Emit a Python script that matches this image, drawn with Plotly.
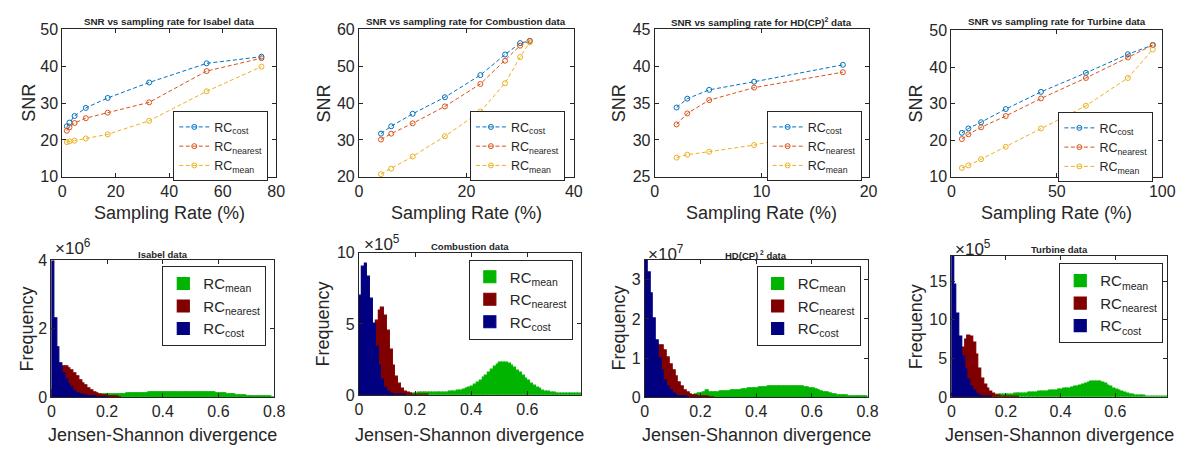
import plotly.graph_objects as go

W, H = 1185, 453
TXT = "#262626"
FONT = "Liberation Sans, Arial, sans-serif"

# ---------------- top row: SNR vs sampling rate ----------------
isa_rate = [1.7, 2.7, 4.6, 8.8, 17.0, 32.5, 54.0, 74.5]
isa_cost = [23.7, 24.7, 26.5, 28.7, 31.4, 35.6, 40.8, 42.6]
isa_nearest = [22.5, 23.4, 24.6, 25.9, 27.4, 30.2, 38.7, 42.2]
isa_mean = [19.4, 19.6, 19.8, 20.4, 21.5, 25.2, 33.2, 39.9]

com_rate = [4.1, 6.0, 10.0, 16.0, 22.6, 27.2, 30.0, 31.8]
com_cost = [31.7, 33.7, 37.1, 41.6, 47.6, 53.2, 56.3, 56.9]
com_nearest = [30.1, 31.7, 34.5, 39.1, 45.2, 51.5, 55.6, 56.9]
com_mean = [20.7, 22.2, 25.5, 31.0, 37.7, 45.4, 52.5, 56.5]

hd_rate = [2.05, 3.05, 5.1, 9.3, 17.6]
hd_cost = [34.4, 35.6, 36.8, 37.9, 40.2]
hd_nearest = [32.1, 33.6, 35.4, 37.1, 39.2]
hd_mean = [27.6, 28.0, 28.4, 29.3, 31.8]

tur_rate = [5.0, 8.1, 14.1, 25.8, 42.5, 63.8, 83.7, 95.5]
tur_cost = [22.0, 23.2, 24.9, 28.5, 33.2, 38.4, 43.5, 46.0]
tur_nearest = [20.3, 21.6, 23.5, 26.6, 31.4, 37.0, 42.6, 46.0]
tur_mean = [12.4, 13.1, 14.8, 18.2, 23.2, 29.4, 37.0, 44.8]

# ---------------- bottom row: JS divergence histograms (bin width 0.01) ----------------
BIN = 0.01
isa_h_cost_start, isa_h_nearest_start, isa_h_mean_start = 0.0, 0.0, 0.1
isa_h_cost = [4.3, 2.3, 1.45, 1.0, 0.7, 0.52, 0.38, 0.27, 0.18, 0.12, 0.08, 0.05, 0.035, 0.02,
              0.012, 0.008, 0.005, 0.003, 0.002, 0.001]
isa_h_nearest = [0.2, 0.45, 0.68, 0.84, 0.9, 0.9, 0.85, 0.77, 0.68, 0.6, 0.5, 0.41, 0.33, 0.25,
                 0.19, 0.14, 0.1, 0.075, 0.055, 0.04, 0.03, 0.02, 0.015, 0.01, 0.005]
isa_h_mean = [0.01, 0.015, 0.02, 0.03, 0.035, 0.045, 0.05, 0.06, 0.065, 0.07,
              0.075, 0.08, 0.08, 0.085, 0.085, 0.09, 0.09, 0.095, 0.095, 0.1,
              0.1, 0.105, 0.11, 0.115, 0.12, 0.125, 0.13, 0.13, 0.135, 0.135,
              0.14, 0.14, 0.14, 0.145, 0.145, 0.145, 0.145, 0.15, 0.15, 0.15,
              0.15, 0.15, 0.15, 0.145, 0.145, 0.14, 0.135, 0.13, 0.125, 0.12,
              0.11, 0.1, 0.095, 0.085, 0.075, 0.065, 0.055, 0.05, 0.04, 0.035,
              0.03, 0.025, 0.02, 0.018, 0.015, 0.012, 0.01, 0.008, 0.006, 0.005]

com_h_cost_start, com_h_nearest_start, com_h_mean_start = 0.0, 0.0, 0.1
com_h_cost = [7.0, 9.0, 9.2, 8.3, 6.8, 5.0, 3.4, 2.1, 1.1, 0.5, 0.25, 0.12, 0.06, 0.03, 0.015,
              0.008, 0.004]
com_h_nearest = [0.1, 0.3, 0.8, 1.6, 2.7, 4.0, 5.2, 5.9, 6.15, 5.6, 4.5, 3.2, 2.1, 1.3, 0.8,
                 0.45, 0.25, 0.14, 0.08, 0.05, 0.03, 0.02, 0.01, 0.005, 0.003]
com_h_mean = [0.01, 0.015, 0.02, 0.03, 0.04, 0.05, 0.06, 0.08, 0.1, 0.12,
              0.13, 0.14, 0.15, 0.15, 0.16, 0.16, 0.17, 0.17, 0.18, 0.18,
              0.19, 0.2, 0.21, 0.23, 0.25, 0.28, 0.32, 0.37, 0.44, 0.52,
              0.62, 0.74, 0.88, 1.03, 1.2, 1.38, 1.56, 1.78, 1.98, 2.15,
              2.27, 2.3, 2.28, 2.2, 2.08, 1.92, 1.74, 1.55, 1.35, 1.16,
              0.98, 0.82, 0.67, 0.54, 0.43, 0.34, 0.27, 0.22, 0.18, 0.15,
              0.13, 0.12, 0.11, 0.1, 0.09, 0.09, 0.08, 0.08, 0.08, 0.08]

hd_h_cost_start, hd_h_nearest_start, hd_h_mean_start = 0.0, 0.0, 0.1
hd_h_cost = [3.6, 3.2, 2.65, 2.0, 1.45, 1.0, 0.68, 0.43, 0.27, 0.16, 0.09, 0.05, 0.025, 0.012,
             0.006, 0.003]
hd_h_nearest = [0.15, 0.4, 0.7, 0.98, 1.2, 1.33, 1.33, 1.2, 1.02, 0.84, 0.68, 0.52, 0.38, 0.27,
                0.18, 0.12, 0.08, 0.05, 0.035, 0.025, 0.015, 0.01, 0.005, 0.003, 0.001]
hd_h_mean = [0.005, 0.008, 0.01, 0.015, 0.02, 0.03, 0.04, 0.05, 0.07, 0.09,
             0.1, 0.11, 0.18, 0.12, 0.12, 0.13, 0.13, 0.14, 0.14, 0.15,
             0.15, 0.16, 0.17, 0.17, 0.18, 0.19, 0.2, 0.21, 0.22, 0.22,
             0.23, 0.24, 0.24, 0.25, 0.26, 0.26, 0.27, 0.27, 0.28, 0.28,
             0.28, 0.28, 0.28, 0.28, 0.27, 0.27, 0.26, 0.25, 0.24, 0.23,
             0.21, 0.19, 0.17, 0.15, 0.13, 0.11, 0.09, 0.08, 0.06, 0.05,
             0.04, 0.035, 0.03, 0.025, 0.02, 0.018, 0.015, 0.012, 0.01, 0.01]

tur_h_cost_start, tur_h_nearest_start, tur_h_mean_start = 0.0, 0.0, 0.1
tur_h_cost = [19.0, 14.5, 10.8, 7.8, 5.3, 3.6, 2.3, 1.4, 0.8, 0.45, 0.22, 0.1, 0.05, 0.02, 0.01]
tur_h_nearest = [0.5, 1.5, 3.0, 4.8, 6.4, 7.4, 7.9, 7.8, 7.0, 5.5, 3.7, 2.4, 1.6, 1.05, 0.65,
                 0.4, 0.22, 0.13, 0.08, 0.05, 0.03, 0.015, 0.01, 0.005, 0.002]
tur_h_mean = [0.02, 0.04, 0.07, 0.1, 0.15, 0.2, 0.25, 0.28, 0.3, 0.32,
              0.34, 0.36, 0.38, 0.4, 0.42, 0.45, 0.48, 0.51, 0.54, 0.57,
              0.6, 0.63, 0.66, 0.7, 0.73, 0.77, 0.81, 0.85, 0.9, 0.95,
              1.0, 1.05, 1.1, 1.16, 1.22, 1.3, 1.4, 1.52, 1.64, 1.76,
              1.86, 1.94, 1.98, 2.0, 1.98, 1.9, 1.75, 1.55, 1.35, 1.15,
              0.95, 0.8, 0.66, 0.54, 0.44, 0.36, 0.3, 0.25, 0.2, 0.17,
              0.14, 0.12, 0.1, 0.09, 0.08, 0.07, 0.06, 0.06, 0.05, 0.05]

top_titles = ["SNR vs sampling rate for Isabel data", "SNR vs sampling rate for Combustion data",
              "SNR vs sampling rate for HD(CP)<sup>2</sup> data", "SNR vs sampling rate for Turbine data"]
bot_titles = ["Isabel data", "Combustion data", "HD(CP)<sup> 2</sup> data", "Turbine data"]
exponents = [6, 5, 7, 5]
series_names = ["RC<sub>cost</sub>", "RC<sub>nearest</sub>", "RC<sub>mean</sub>"]

# ---------------- styling / layout ----------------
LINE_COLORS = ["#0072BD", "#D95319", "#EDB120"]
BAR_COLORS = {"mean": "#00B400", "nearest": "#800000", "cost": "#000080"}

def xdom(a, b):
    return [a / W, b / W]

def ydom(top, bottom):
    return [1 - bottom / H, 1 - top / H]

top_boxes = [(51, 268, 14, 167), (352, 570, 14, 167), (652, 869, 14, 167), (953, 1167, 15, 167)]
bot_boxes = [(40, 266, 254, 396), (352, 577, 246, 394), (642, 868, 253, 396), (953, 1172, 249, 396)]
top_xr = [([0, 80], 20), ([0, 40], 20), ([0, 20], 10), ([0, 100], 50)]
top_yr = [([10, 50], 10), ([20, 60], 10), ([25, 45], 5), ([10, 50], 10)]
bot_xr = [[0, 0.8], [0, 0.79], [0, 0.8], [0, 0.79]]
bot_yr = [([0, 4], 2), ([0, 10], 5), ([0, 3.52], 1), ([0, 18.3], 5)]
# legend boxes: (right edge, top edge) in pixels
top_leg = [(260, 99), (561, 99), (862, 99), (1158, 100)]
bot_leg = [(258, 260), (569, 253), (861, 260), (1168, 257)]
snr_x = [17, 317, 616, 917]
freq_x = [15, 316, 616, 918]
exp_pos = [(42, 240), (355, 236), (643, 246), (955, 241)]
bot_title_y = [248, 239, 248, 243]


def axis(domain, rng, dtick, anchor):
    return dict(domain=domain, range=rng, dtick=dtick, tick0=0, anchor=anchor,
                showline=True, linecolor=TXT, linewidth=1, mirror="ticks",
                ticks="inside", ticklen=4, tickcolor=TXT, showgrid=False,
                zeroline=False, tickfont=dict(size=16, color=TXT, family=FONT),
                fixedrange=True)


def centers(start, n):
    return [round(start + BIN * (i + 0.5), 4) for i in range(n)]


fig = go.Figure()
layout = dict(width=W, height=H, margin=dict(l=0, r=0, t=0, b=0),
              paper_bgcolor="white", plot_bgcolor="white",
              font=dict(family=FONT, color=TXT), barmode="overlay", bargap=0,
              showlegend=True)
annotations = []

top_data = [
    (isa_rate, [isa_cost, isa_nearest, isa_mean]),
    (com_rate, [com_cost, com_nearest, com_mean]),
    (hd_rate, [hd_cost, hd_nearest, hd_mean]),
    (tur_rate, [tur_cost, tur_nearest, tur_mean]),
]
bot_data = [
    [("mean", isa_h_mean_start, isa_h_mean), ("nearest", isa_h_nearest_start, isa_h_nearest),
     ("cost", isa_h_cost_start, isa_h_cost)],
    [("mean", com_h_mean_start, com_h_mean), ("nearest", com_h_nearest_start, com_h_nearest),
     ("cost", com_h_cost_start, com_h_cost)],
    [("mean", hd_h_mean_start, hd_h_mean), ("nearest", hd_h_nearest_start, hd_h_nearest),
     ("cost", hd_h_cost_start, hd_h_cost)],
    [("mean", tur_h_mean_start, tur_h_mean), ("nearest", tur_h_nearest_start, tur_h_nearest),
     ("cost", tur_h_cost_start, tur_h_cost)],
]


def ann(x, y, text, size, bold=False, angle=0, xanchor="center"):
    annotations.append(dict(x=x / W, y=1 - y / H, xref="paper", yref="paper",
                            text=("<b>%s</b>" % text) if bold else text,
                            showarrow=False, xanchor=xanchor, yanchor="middle",
                            textangle=angle, font=dict(size=size, color=TXT, family=FONT)))


for i in range(4):
    # ---- top panel ----
    k = i + 1
    sfx = "" if k == 1 else str(k)
    x0, x1, y0, y1 = top_boxes[i]
    layout["xaxis" + sfx] = axis(xdom(x0, x1), top_xr[i][0], top_xr[i][1], "y" + sfx)
    layout["yaxis" + sfx] = axis(ydom(y0, y1), top_yr[i][0], top_yr[i][1], "x" + sfx)
    legname = "legend" + sfx
    lx, ly = top_leg[i]
    layout[legname] = dict(x=lx / W, y=1 - ly / H, xanchor="right", yanchor="top",
                           bgcolor="white", bordercolor=TXT, borderwidth=1,
                           font=dict(size=12.5, color=TXT, family=FONT),
                           itemwidth=30, traceorder="normal", tracegroupgap=0)
    rate, vals = top_data[i]
    for j in range(3):
        fig.add_trace(go.Scatter(
            x=rate, y=vals[j], mode="lines+markers", name=series_names[j],
            line=dict(color=LINE_COLORS[j], width=1, dash="4px,2.5px"),
            marker=dict(symbol="circle-open", size=5, color=LINE_COLORS[j], line=dict(width=1)),
            xaxis="x" + sfx, yaxis="y" + sfx, legend=legname, cliponaxis=False))
    ann((x0 + x1) / 2, 6, top_titles[i], 9.8, bold=True)
    ann(snr_x[i], (y0 + y1) / 2, "SNR", 18, angle=-90)
    ann((x0 + x1) / 2, 205, "Sampling Rate (%)", 18)

    # ---- bottom panel ----
    k = i + 5
    sfx = str(k)
    x0, x1, y0, y1 = bot_boxes[i]
    layout["xaxis" + sfx] = axis(xdom(x0, x1), bot_xr[i], 0.2, "y" + sfx)
    layout["yaxis" + sfx] = axis(ydom(y0, y1), bot_yr[i][0], bot_yr[i][1], "x" + sfx)
    legname = "legend" + sfx
    lx, ly = bot_leg[i]
    layout[legname] = dict(x=lx / W, y=1 - ly / H, xanchor="right", yanchor="top",
                           bgcolor="white", bordercolor=TXT, borderwidth=1,
                           font=dict(size=15, color=TXT, family=FONT),
                           itemwidth=30, traceorder="normal", tracegroupgap=0)
    for key, start, vals in bot_data[i]:
        fig.add_trace(go.Bar(
            x=centers(start, len(vals)), y=vals, width=BIN,
            name="RC<sub>%s</sub>" % key,
            marker=dict(color=BAR_COLORS[key], line=dict(width=1.2, color=BAR_COLORS[key])),
            xaxis="x" + sfx, yaxis="y" + sfx, legend=legname))
    ann((x0 + x1) / 2, bot_title_y[i], bot_titles[i], 9.5, bold=True)
    ann(freq_x[i], (y0 + y1) / 2, "Frequency", 18, angle=-90)
    ann((x0 + x1) / 2, 435, "Jensen-Shannon divergence", 18)
    ex, ey = exp_pos[i]
    ann(ex, ey, "\u00d710<sup>%d</sup>" % exponents[i], 17, xanchor="left")

layout["annotations"] = annotations
fig.update_layout(**layout)
fig.write_html("out.html")
